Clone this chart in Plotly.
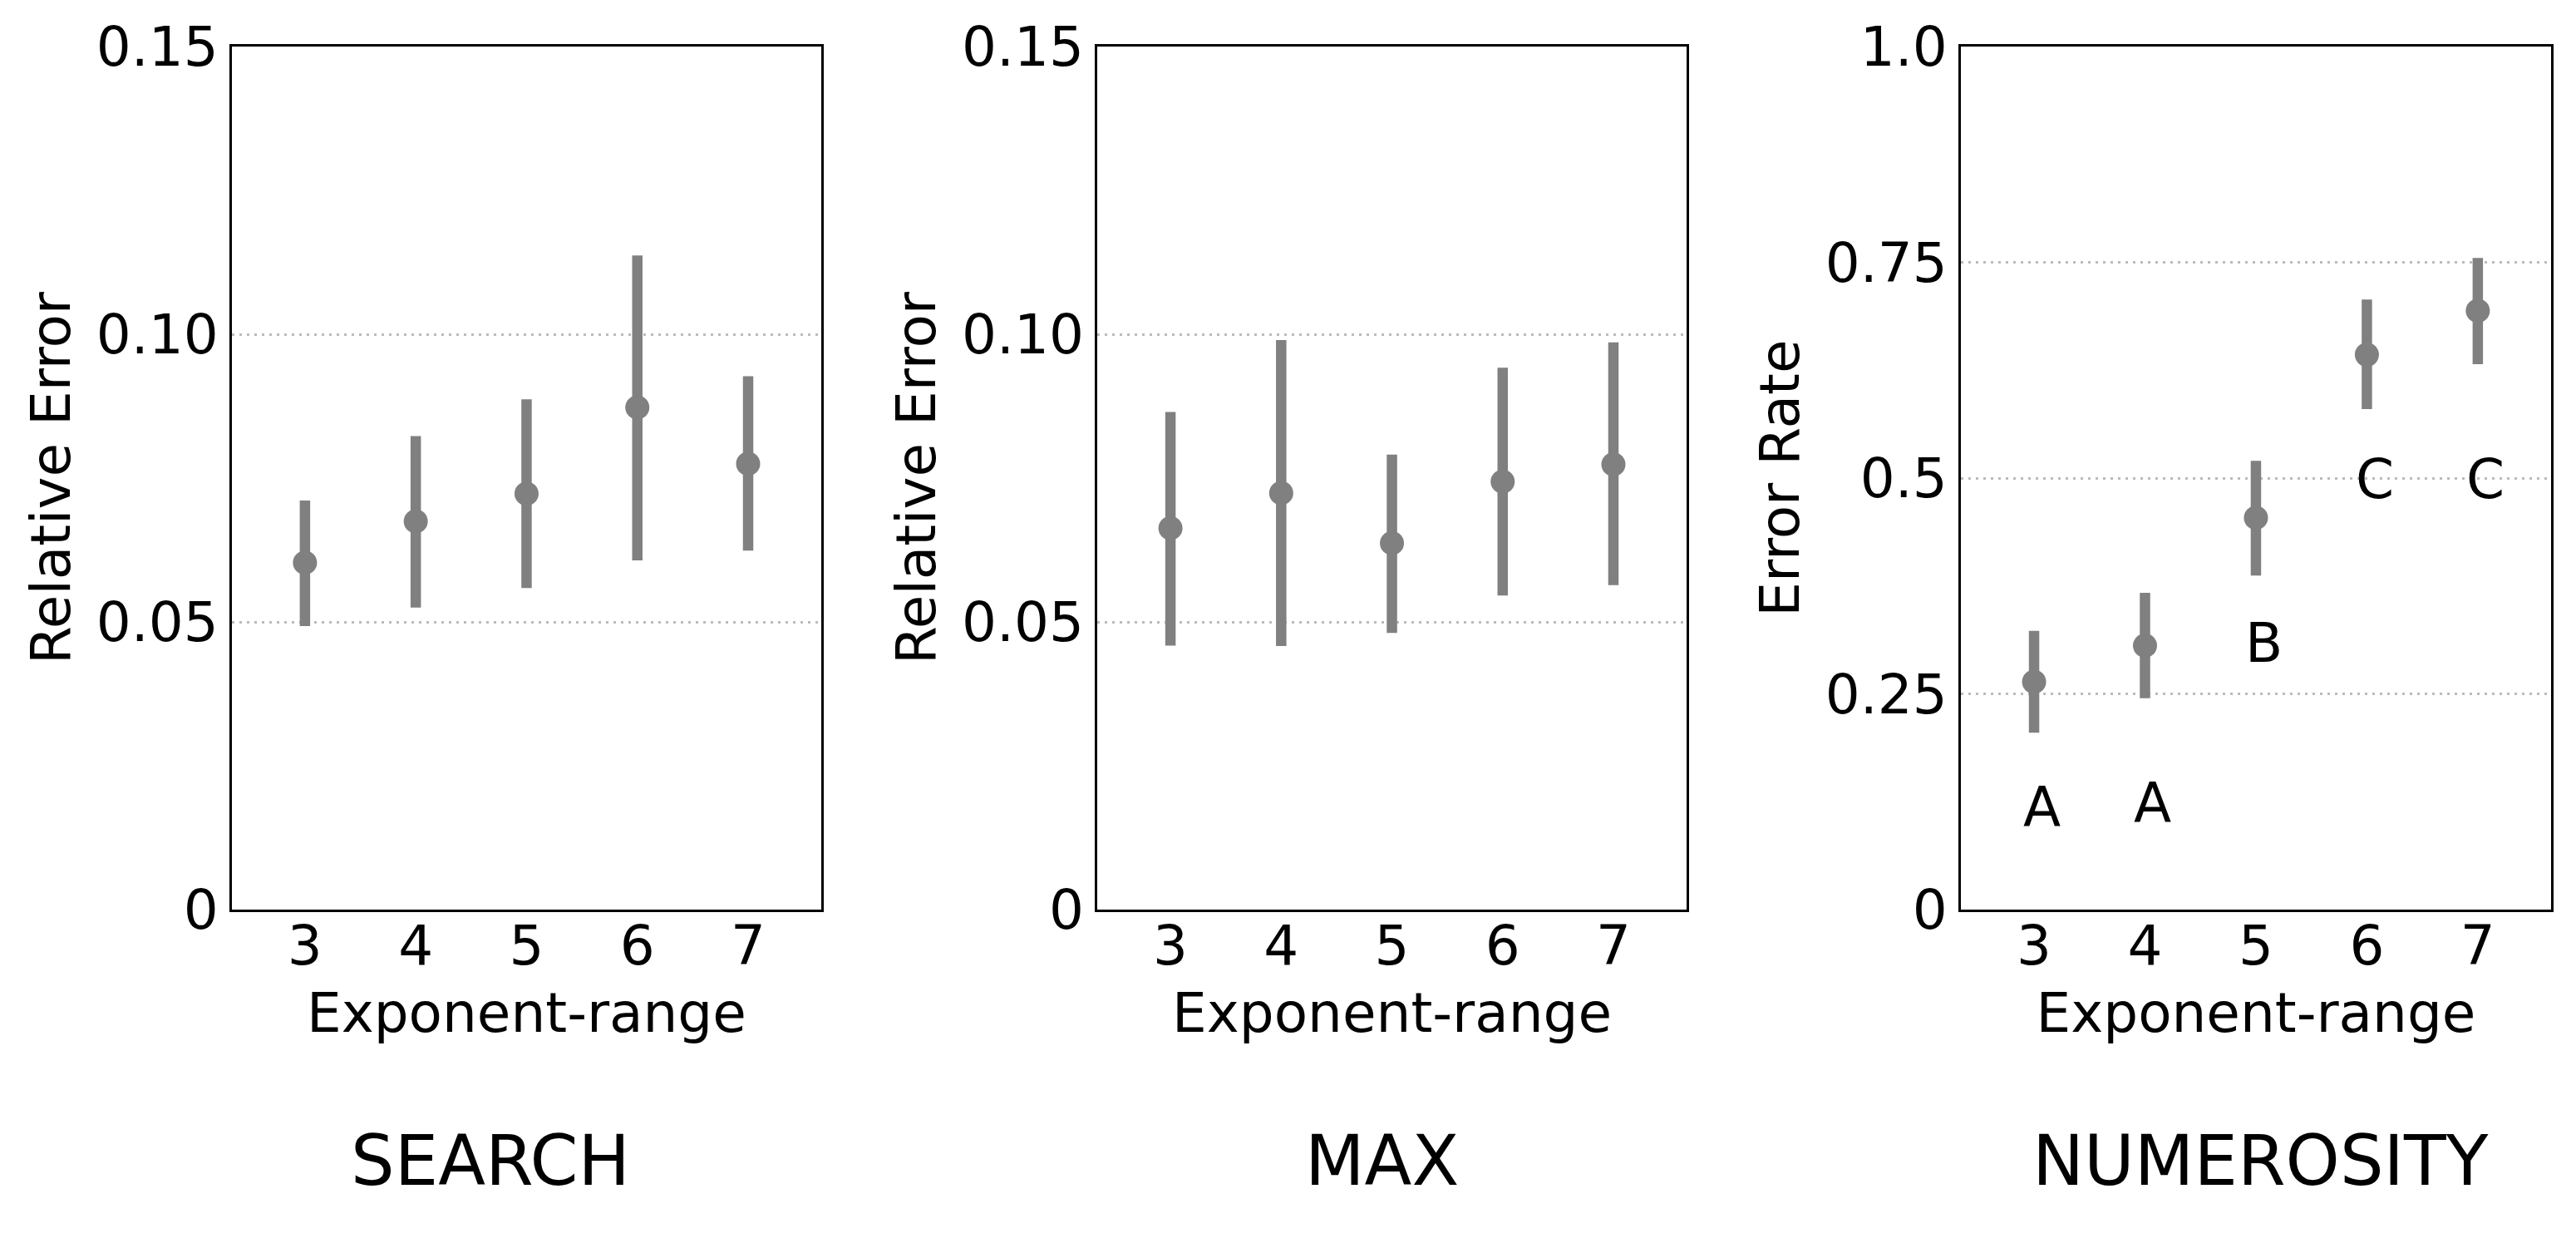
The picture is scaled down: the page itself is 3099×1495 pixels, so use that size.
import plotly.graph_objects as go
from plotly.subplots import make_subplots

# exponent ranges (x categories)
exp_range = [3, 4, 5, 6, 7]

# SEARCH: mean relative error and 95% CI
search_mean = [0.0603, 0.0675, 0.0723, 0.0873, 0.0775]
search_low = [0.0493, 0.0525, 0.0559, 0.0607, 0.0624]
search_high = [0.0711, 0.0823, 0.0887, 0.1137, 0.0927]

# MAX
max_mean = [0.0663, 0.0724, 0.0637, 0.0744, 0.0774]
max_low = [0.0459, 0.0458, 0.0481, 0.0546, 0.0564]
max_high = [0.0865, 0.0990, 0.0791, 0.0942, 0.0986]

# NUMEROSITY: error rate
num_mean = [0.264, 0.306, 0.454, 0.643, 0.694]
num_low = [0.205, 0.245, 0.387, 0.580, 0.632]
num_high = [0.323, 0.367, 0.520, 0.707, 0.755]

# significance group letters
num_letters = ["A", "A", "B", "C", "C"]
num_letter_y = [0.119, 0.124, 0.309, 0.499, 0.499]

panel_titles = ["SEARCH", "MAX", "NUMEROSITY"]
y_titles = ["Relative Error", "Relative Error", "Error Rate"]
rel_ticks = [0, 0.05, 0.10, 0.15]
rel_ticktext = ["0", "0.05", "0.10", "0.15"]
rate_ticks = [0, 0.25, 0.5, 0.75, 1.0]
rate_ticktext = ["0", "0.25", "0.5", "0.75", "1.0"]

GRAY = "#808080"
FONT = "DejaVu Sans"

fig = make_subplots(rows=1, cols=3)

panels = [
    (search_mean, search_low, search_high),
    (max_mean, max_low, max_high),
    (num_mean, num_low, num_high),
]

for i, (m, lo, hi) in enumerate(panels):
    fig.add_trace(
        go.Scatter(
            x=exp_range,
            y=m,
            mode="markers",
            marker=dict(color=GRAY, size=29),
            error_y=dict(
                type="data",
                symmetric=False,
                array=[h - v for h, v in zip(hi, m)],
                arrayminus=[v - l for v, l in zip(m, lo)],
                color=GRAY,
                thickness=12.5,
                width=0,
            ),
            showlegend=False,
        ),
        row=1, col=i + 1,
    )

# letters above/below the numerosity points
for x, y, t in zip(exp_range, num_letter_y, num_letters):
    fig.add_annotation(
        x=x + 0.07, y=y, xref="x3", yref="y3", text=t, showarrow=False,
        font=dict(family=FONT, size=66, color="black"),
        xanchor="center", yanchor="middle",
    )

x_domains = [[0.0900, 0.3188], [0.4260, 0.6547], [0.7612, 0.9903]]
title_x = [0.1904, 0.5366, 0.8777]

axis_common = dict(
    showline=True, linecolor="black", linewidth=3, mirror=True,
    ticks="", tickfont=dict(family=FONT, size=66, color="black"),
    zeroline=False, automargin=False,
)

for i in range(3):
    xa = "xaxis" if i == 0 else f"xaxis{i + 1}"
    ya = "yaxis" if i == 0 else f"yaxis{i + 1}"
    fig.update_layout({
        xa: dict(
            domain=x_domains[i], range=[2.34, 7.66],
            tickvals=exp_range, showgrid=False, ticklabelstandoff=-16,
            title=dict(text="Exponent-range", standoff=20,
                       font=dict(family=FONT, size=66, color="black")),
            **axis_common,
        ),
        ya: dict(
            domain=[0.2682, 0.9625],
            range=[0, 0.15] if i < 2 else [0, 1.0],
            tickvals=rel_ticks if i < 2 else rate_ticks,
            ticktext=rel_ticktext if i < 2 else rate_ticktext,
            showgrid=True, gridcolor="#bbbbbb", griddash="3px,6px", gridwidth=2.5,
            title=dict(text=y_titles[i], standoff=10,
                       font=dict(family=FONT, size=66, color="black")),
            **axis_common,
        ),
    })
    fig.add_annotation(
        x=title_x[i], y=0.0656, xref="paper", yref="paper",
        text=panel_titles[i], showarrow=False,
        font=dict(family=FONT, size=83, color="black"),
        xanchor="center", yanchor="middle",
    )

fig.update_layout(
    width=3099, height=1495,
    margin=dict(l=0, r=0, t=0, b=0),
    paper_bgcolor="white", plot_bgcolor="white",
    font=dict(family=FONT, color="black"),
)

fig.write_html(
    "out.html",
    config={"displayModeBar": False},
    post_script="document.body.style.margin='0';",
)
